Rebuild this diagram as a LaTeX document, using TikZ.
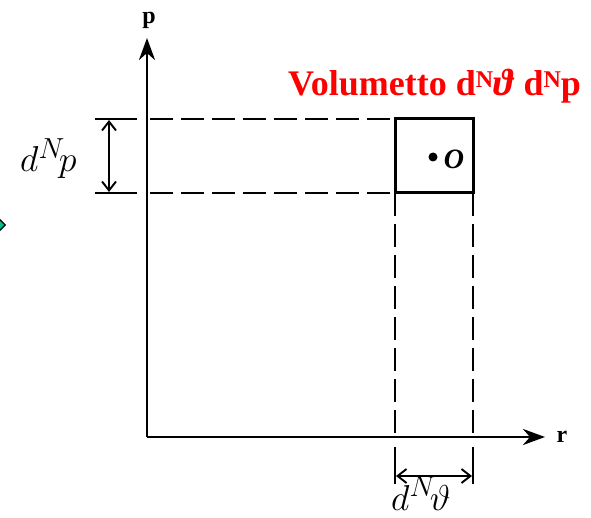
\RequirePackage{fix-cm}
\documentclass[tikz,border=0pt]{standalone}
\usepackage{fontspec}
\setmainfont{Liberation Serif}
\DeclareMathSizes{36}{36}{29}{22}
\usetikzlibrary{arrows.meta}
\begin{document}
\begin{tikzpicture}[x=1pt,y=-1pt,
  axis/.style={line width=2.6pt,-{Stealth[length=22pt,width=16pt,inset=7pt]}},
  frame/.style={line width=3pt},
  guide/.style={line width=2.2pt,dash pattern=on 23pt off 8pt},
  tick/.style={line width=2.2pt},
  dim/.style={line width=1.9pt,{Straight Barb[length=9pt,width=14pt]}-{Straight Barb[length=9pt,width=14pt]}},
  axlabel/.style={font=\fontsize{24}{24}\selectfont\bfseries,inner sep=0pt},
  mathlabel/.style={font=\fontsize{36}{36}\selectfont,inner sep=0pt,anchor=base west}]
\useasboundingbox (0,0) rectangle (591,518);
% green marker at left edge
\begin{scope}
\clip (0,0) rectangle (591,518);
\node[draw=black,fill={rgb,255:red,0;green,190;blue,140},line width=1.2pt,minimum width=16pt,minimum height=16pt,shape=rectangle,rotate=45,inner sep=0pt] (mk) at (-6,225) {};
\end{scope}
% coordinates
\coordinate (O) at (147,437);
\coordinate (ytip) at (147,38);
\coordinate (xtip) at (545,437);
\coordinate (bl) at (395,193);
\coordinate (br) at (473,193);
\coordinate (tl) at (395,119);
\coordinate (tr) at (473,119);
\coordinate (h1a) at (95,119);
\coordinate (h1b) at (137,119);
\coordinate (h1c) at (150,119);
\coordinate (h2a) at (95,193);
\coordinate (h2b) at (137,193);
\coordinate (h2c) at (150,193);
\coordinate (v1a) at (395,437);
\coordinate (v2a) at (473,437);
\coordinate (v1b) at (395,447);
\coordinate (v2b) at (473,447);
\coordinate (v1c) at (395,484);
\coordinate (v2c) at (473,484);
% guides
\draw[guide] (h1c) -- (tl);
\draw[guide] (h2c) -- (bl);
\draw[guide] (bl) -- (v1a);
\draw[guide] (br) -- (v2a);
\draw[tick] (h1a) -- (h1b);
\draw[tick] (h2a) -- (h2b);
\draw[tick] (v1b) -- (v1c);
\draw[tick] (v2b) -- (v2c);
% axes
\draw[axis] (O) -- (ytip);
\draw[axis] (O) -- (xtip);
% box
\draw[frame] (tl) rectangle (br);
% dot
\fill (433,157) circle (4.5pt);
\node[font=\fontsize{28}{28}\selectfont\itshape\bfseries,inner sep=0pt] (olab) at (454,159) {O};
% dimension arrows
\coordinate (da1) at (109,120);
\coordinate (da2) at (109,192);
\draw[dim] (da1) -- (da2);
\coordinate (db1) at (396,476);
\coordinate (db2) at (472,476);
\draw[dim] (db1) -- (db2);
% labels
\node[axlabel] (plab) at (149,20) {p};
\node[axlabel] (rlab) at (562,437) {r};
\node[mathlabel] (dnp) at (20,172) {$d^N\! p$};
\node[mathlabel] (dnt) at (391,510) {$d^N\! \vartheta$};
\node[font=\fontsize{36}{36}\selectfont\bfseries,text=red,inner sep=0pt,anchor=base west] (title) at (288,96) {Volumetto d\raisebox{8.5pt}{\fontsize{24}{24}\selectfont N}{\fontsize{38}{38}\selectfont\textit{ϑ}} d\raisebox{8.5pt}{\fontsize{24}{24}\selectfont N}p};
\end{tikzpicture}
\end{document}
